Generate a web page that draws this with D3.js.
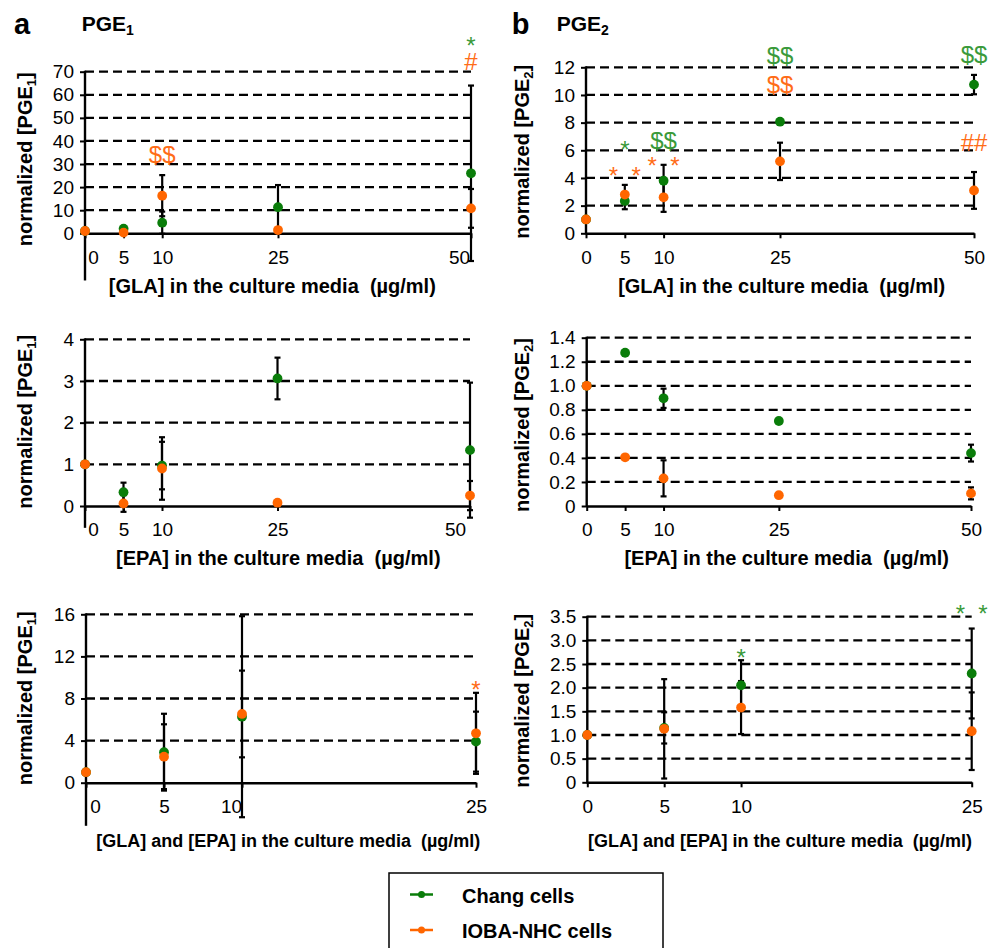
<!DOCTYPE html>
<html>
<head>
<meta charset="utf-8">
<script src="https://cdn.jsdelivr.net/npm/d3@7"></script>
<style>
  body { margin: 0; background: #fff; }
  text { font-family: "Liberation Sans", Arial, Helvetica, sans-serif; white-space: pre; }
</style>
</head>
<body>
<svg id="chart" width="993" height="948"></svg>
<script>
// doses (µg/ml)
const glaDoses = [0, 5, 10, 25, 50];
const epaDoses = [0, 5, 10, 25, 50];
const mixDoses = [0, 5, 10, 25];

// PGE1 / GLA
const pge1GlaChang = [1, 2, 4.6, 11.3, 26];
const pge1GlaChangErr = [0, 0, 4.8, 9.6, 38];
const pge1GlaIoba = [1, 0.3, 16.3, 1.4, 10.8];
const pge1GlaIobaErr = [0, 0, 8.9, 0, 8.4];

// PGE1 / EPA
const pge1EpaChang = [1, 0.33, 0.97, 3.06, 1.34];
const pge1EpaChangErr = [0, 0.23, 0.57, 0.5, 1.62];
const pge1EpaIoba = [1, 0.06, 0.9, 0.08, 0.25];
const pge1EpaIobaErr = [0, 0.2, 0.75, 0, 0.35];

// PGE1 / GLA+EPA
const pge1MixChang = [1, 2.9, 6.27, 3.9];
const pge1MixChangErr = [0, 3.65, 9.55, 2.85];
const pge1MixIoba = [1, 2.47, 6.53, 4.69];
const pge1MixIobaErr = [0, 3.08, 4.12, 3.85];

// PGE2 / GLA
const pge2GlaChang = [1, 2.34, 3.8, 8.07, 10.75];
const pge2GlaChangErr = [0, 0.6, 1.15, 0, 0.7];
const pge2GlaIoba = [1, 2.8, 2.6, 5.2, 3.1];
const pge2GlaIobaErr = [0, 0.7, 1.05, 1.35, 1.33];

// PGE2 / EPA
const pge2EpaChang = [1, 1.275, 0.896, 0.707, 0.44];
const pge2EpaChangErr = [0, 0, 0.08, 0, 0.07];
const pge2EpaIoba = [1, 0.405, 0.23, 0.09, 0.105];
const pge2EpaIobaErr = [0, 0, 0.15, 0, 0.05];

// PGE2 / GLA+EPA
const pge2MixChang = [1, 1.15, 2.05, 2.3];
const pge2MixChangErr = [0, 0.33, 0.53, 0.95];
const pge2MixIoba = [1, 1.13, 1.58, 1.08];
const pge2MixIobaErr = [0, 1.05, 0.56, 0.82];

// y tick labels
const ticksA1 = ['0', '10', '20', '30', '40', '50', '60', '70'];
const ticksA2 = ['0', '1', '2', '3', '4'];
const ticksA3 = ['0', '4', '8', '12', '16'];
const ticksB1 = ['0', '2', '4', '6', '8', '10', '12'];
const ticksB2 = ['0', '0.2', '0.4', '0.6', '0.8', '1.0', '1.2', '1.4'];
const ticksB3 = ['0', '0.5', '1.0', '1.5', '2.0', '2.5', '3.0', '3.5'];

// significance marks: panel, series, dose, level, text
const marks = [
  ['a1', 'ioba', 10, 34.2, '$$'],
  ['a1', 'chang', 50, 83.7, '*'],
  ['a1', 'ioba', 50, 74.3, '#'],
  ['b1', 'chang', 5, 6.43, '*'],
  ['b1', 'ioba', 5, 4.53, '*  *'],
  ['b1', 'chang', 10, 6.75, '$$'],
  ['b1', 'ioba', 10, 5.28, '*  *'],
  ['b1', 'chang', 25, 12.84, '$$'],
  ['b1', 'ioba', 25, 10.77, '$$'],
  ['b1', 'chang', 50, 12.96, '$$'],
  ['b1', 'ioba', 50, 6.55, '##'],
  ['a3', 'ioba', 25, 9.37, '*'],
  ['b3', 'chang', 10, 2.75, '*'],
  ['b3', 'chang', 25, 3.69, '*  *']
];

const seriesNames = ['Chang cells', 'IOBA-NHC cells'];

const GREEN = '#0a7d0a', ORANGE = '#ff6600';
const noteColor = {chang: '#3a9a3a', ioba: '#ff6c17'};
const FONT = '"Liberation Sans", Arial, Helvetica, sans-serif';

const panels = [
  {id: 'a1', doses: glaDoses, chang: pge1GlaChang, changErr: pge1GlaChangErr, ioba: pge1GlaIoba, iobaErr: pge1GlaIobaErr,
   ticks: ticksA1, left: 85, right: 471, zero: 233.3, top: 71.7, floor: -20, tickDx: [8, 0, 0, 0, -12],
   ylab: 'normalized [PGE', sub: '1', ylx: 31.7, yly: 159.2,
   xlab: '[GLA] in the culture media  (µg/ml)', xlx: 272.3, xly: 293, xfs: 20},
  {id: 'a2', doses: epaDoses, chang: pge1EpaChang, changErr: pge1EpaChangErr, ioba: pge1EpaIoba, iobaErr: pge1EpaIobaErr,
   ticks: ticksA2, left: 85, right: 470, zero: 506, top: 339.3, floor: -0.5, tickDx: [8, 0, 0, 0, -15],
   ylab: 'normalized [PGE', sub: '1', ylx: 31.7, yly: 421.7,
   xlab: '[EPA] in the culture media  (µg/ml)', xlx: 278.3, xly: 565, xfs: 20},
  {id: 'a3', doses: mixDoses, chang: pge1MixChang, changErr: pge1MixChangErr, ioba: pge1MixIoba, iobaErr: pge1MixIobaErr,
   ticks: ticksA3, left: 86, right: 476, zero: 782.7, top: 614.3, floor: -4, tickDx: [9, 0, -11, 0],
   ylab: 'normalized [PGE', sub: '1', ylx: 31.7, yly: 698.3,
   xlab: '[GLA] and [EPA] in the culture media  (µg/ml)', xlx: 288.3, xly: 847, xfs: 18},
  {id: 'b1', doses: glaDoses, chang: pge2GlaChang, changErr: pge2GlaChangErr, ioba: pge2GlaIoba, iobaErr: pge2GlaIobaErr,
   ticks: ticksB1, left: 586, right: 974, zero: 233.3, top: 67.3, floor: 0, tickDx: null,
   ylab: 'normalized [PGE', sub: '2', ylx: 529.3, yly: 151.7,
   xlab: '[GLA] in the culture media  (µg/ml)', xlx: 781.7, xly: 293, xfs: 20},
  {id: 'b2', doses: epaDoses, chang: pge2EpaChang, changErr: pge2EpaChangErr, ioba: pge2EpaIoba, iobaErr: pge2EpaIobaErr,
   ticks: ticksB2, left: 586.7, right: 971, zero: 506, top: 337.7, floor: 0, tickDx: null,
   ylab: 'normalized [PGE', sub: '2', ylx: 529.3, yly: 425,
   xlab: '[EPA] in the culture media  (µg/ml)', xlx: 786.7, xly: 565, xfs: 20},
  {id: 'b3', doses: mixDoses, chang: pge2MixChang, changErr: pge2MixChangErr, ioba: pge2MixIoba, iobaErr: pge2MixIobaErr,
   ticks: ticksB3, left: 587.3, right: 971.7, zero: 782.3, top: 616.7, floor: 0, tickDx: null,
   ylab: 'normalized [PGE', sub: '2', ylx: 529.3, yly: 700.8,
   xlab: '[GLA] and [EPA] in the culture media  (µg/ml)', xlx: 780, xly: 847, xfs: 18}
];

const svg = d3.select('#chart');

function drawPanel(p) {
  const tickVals = p.ticks.map(Number);
  const x = d3.scaleLinear().domain([0, d3.max(p.doses)]).range([p.left, p.right]);
  const y = d3.scaleLinear().domain([0, d3.max(tickVals)]).range([p.zero, p.top]);
  const g = svg.append('g').attr('class', 'panel-' + p.id);

  // dashed grid
  g.append('g').selectAll('line')
    .data(tickVals.filter(d => d > 0))
    .join('line')
    .attr('x1', p.left).attr('x2', p.right)
    .attr('y1', d => y(d)).attr('y2', d => y(d))
    .attr('stroke', '#000').attr('stroke-width', 2.3)
    .attr('stroke-dasharray', '9,5');

  // y axis
  const ya = g.append('g')
    .attr('transform', `translate(${p.left},0)`)
    .call(d3.axisLeft(y).tickValues(tickVals).tickFormat((d, i) => p.ticks[i])
      .tickSizeInner(5).tickSizeOuter(0).tickPadding(6));
  ya.select('.domain').remove();
  ya.append('line')
    .attr('y1', y(p.floor) + 1).attr('y2', p.top - 1)
    .attr('stroke', '#000').attr('stroke-width', 2.4);
  ya.attr('font-size', 19).attr('font-family', FONT);
  ya.selectAll('.tick line').attr('stroke-width', 2);

  // x axis on zero line
  const xa = g.append('g')
    .attr('transform', `translate(0,${p.zero})`)
    .call(d3.axisBottom(x).tickValues(p.doses).tickSizeInner(5).tickSizeOuter(0).tickPadding(12));
  xa.attr('font-size', 19).attr('font-family', FONT);
  xa.select('.domain').attr('stroke-width', 2.4);
  xa.selectAll('.tick line').attr('stroke-width', 2);
  xa.selectAll('.tick text').attr('dx', (d, i) => p.tickDx ? p.tickDx[i] : 0);

  // error bars, both series
  const bars = [];
  ['chang', 'ioba'].forEach(s => {
    p[s].forEach((v, i) => {
      const e = p[s + 'Err'][i];
      if (e > 0) bars.push({dose: p.doses[i], lo: v - e, hi: v + e});
    });
  });
  const eb = g.append('g').attr('stroke', '#000').attr('stroke-width', 2.2);
  eb.selectAll('line.stem').data(bars).join('line').attr('class', 'stem')
    .attr('x1', d => x(d.dose)).attr('x2', d => x(d.dose))
    .attr('y1', d => y(d.lo)).attr('y2', d => y(d.hi));
  eb.selectAll('line.cap').data(bars.flatMap(d => [{dose: d.dose, v: d.lo}, {dose: d.dose, v: d.hi}]))
    .join('line').attr('class', 'cap')
    .attr('x1', d => x(d.dose) - 3).attr('x2', d => x(d.dose) + 3)
    .attr('y1', d => y(d.v)).attr('y2', d => y(d.v));

  // markers
  [['chang', GREEN], ['ioba', ORANGE]].forEach(([s, col]) => {
    g.append('g').selectAll('circle')
      .data(p[s].map((v, i) => ({dose: p.doses[i], v})))
      .join('circle')
      .attr('cx', d => x(d.dose)).attr('cy', d => y(d.v))
      .attr('r', 4.9).attr('fill', col);
  });

  // significance marks
  g.append('g').selectAll('text')
    .data(marks.filter(m => m[0] === p.id))
    .join('text')
    .attr('x', d => x(d[2]))
    .attr('y', d => y(d[3]) + (d[4][0] === '*' ? 13.8 : 8.6))
    .attr('text-anchor', 'middle')
    .attr('font-size', 24)
    .attr('fill', d => noteColor[d[1]])
    .text(d => d[4]);

  // y axis title
  const yt = g.append('text')
    .attr('transform', `translate(${p.ylx},${p.yly}) rotate(-90)`)
    .attr('text-anchor', 'middle')
    .attr('font-size', 20).attr('font-weight', 'bold');
  yt.append('tspan').text(p.ylab);
  yt.append('tspan').attr('font-size', 13).attr('dy', 4).text(p.sub);
  yt.append('tspan').attr('dy', -4).text(']');

  // x axis title
  g.append('text')
    .attr('x', p.xlx).attr('y', p.xly)
    .attr('text-anchor', 'middle')
    .attr('font-size', p.xfs).attr('font-weight', 'bold')
    .text(p.xlab);
}

panels.forEach(drawPanel);

// panel letters and headings
[['a', 14, 'PGE', '1', 81.7], ['b', 511.7, 'PGE', '2', 556.7]].forEach(([letter, lx, head, sub, hx]) => {
  svg.append('text').attr('x', lx).attr('y', 33.5)
    .attr('font-size', 29).attr('font-weight', 'bold').text(letter);
  const t = svg.append('text').attr('x', hx).attr('y', 30.7)
    .attr('font-size', 21).attr('font-weight', 'bold');
  t.append('tspan').text(head);
  t.append('tspan').attr('font-size', 14).attr('dy', 4).text(sub);
});

// legend
const legend = svg.append('g');
legend.append('rect')
  .attr('x', 389).attr('y', 873).attr('width', 274).attr('height', 110)
  .attr('fill', 'none').attr('stroke', '#000').attr('stroke-width', 1.5);
const legendY = d3.scalePoint().domain(seriesNames).range([894.5, 930]);
legend.selectAll('g.item').data(seriesNames).join('g').attr('class', 'item')
  .each(function (name, i) {
    const col = i === 0 ? GREEN : ORANGE;
    const row = d3.select(this);
    row.append('line').attr('x1', 410).attr('x2', 433)
      .attr('y1', legendY(name)).attr('y2', legendY(name))
      .attr('stroke', col).attr('stroke-width', 2.5);
    row.append('circle').attr('cx', 421.5).attr('cy', legendY(name)).attr('r', 3.5).attr('fill', col);
    row.append('text').attr('x', 462).attr('y', legendY(name) + 8)
      .attr('font-size', 20).attr('font-weight', 'bold').text(name);
  });
</script>
</body>
</html>
